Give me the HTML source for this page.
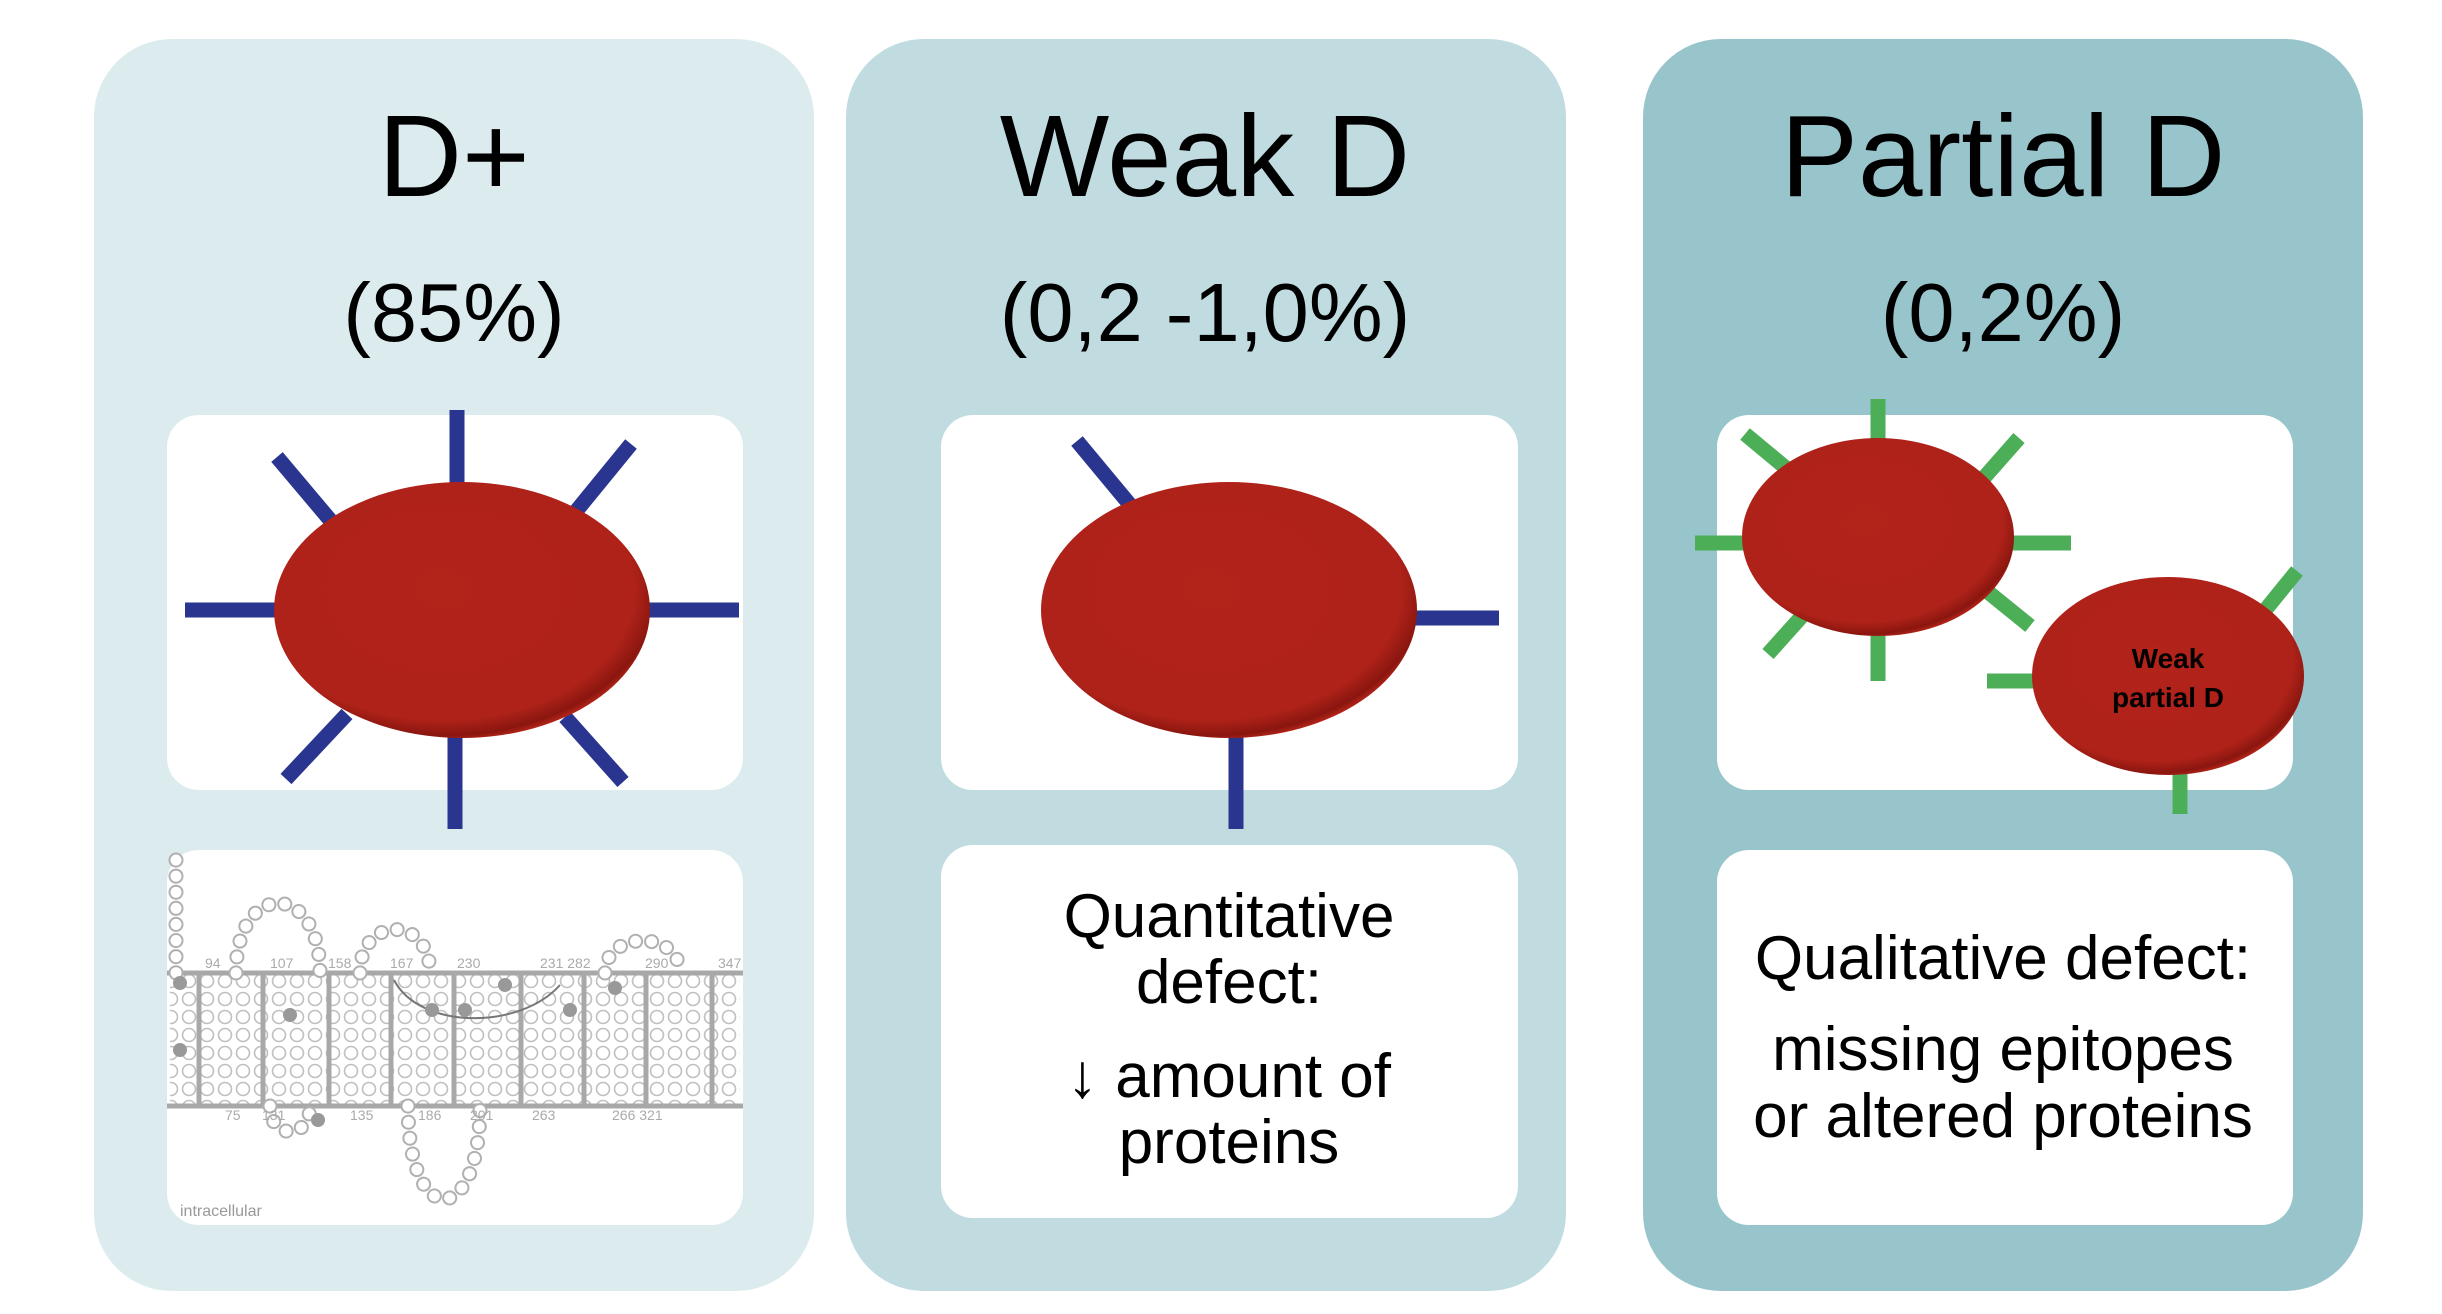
<!DOCTYPE html>
<html><head><meta charset="utf-8"><style>
html,body{margin:0;padding:0;background:#fff;}
svg{display:block;}
text{font-family:"Liberation Sans",Arial,sans-serif;}
</style></head><body>
<svg width="2442" height="1314" viewBox="0 0 2442 1314" xmlns="http://www.w3.org/2000/svg">
<defs>
<radialGradient id="rbc" cx="0.45" cy="0.42" r="0.6">
<stop offset="0" stop-color="#b2231a"/><stop offset="0.85" stop-color="#ae2219"/><stop offset="0.95" stop-color="#8a160f"/><stop offset="1" stop-color="#c0281c"/>
</radialGradient>
<pattern id="helix" width="18" height="18" patternUnits="userSpaceOnUse">
<circle cx="9" cy="9" r="6.5" fill="#fff" stroke="#b8b8b8" stroke-width="1.6"/>
</pattern>
</defs>
<!-- panels -->
<rect x="94" y="39" width="720" height="1252" rx="78" fill="#dcecee"/>
<rect x="846" y="39" width="720" height="1252" rx="78" fill="#c0dce0"/>
<rect x="1643" y="39" width="720" height="1252" rx="78" fill="#98c4cc"/>
<!-- titles -->
<g font-size="116" text-anchor="middle" fill="#000">
<text x="454" y="196">D+</text>
<text x="1205" y="196">Weak D</text>
<text x="2003" y="196">Partial D</text>
</g>
<g font-size="83" text-anchor="middle" fill="#000">
<text x="454" y="341">(85%)</text>
<text x="1205" y="341">(0,2 -1,0%)</text>
<text x="2003" y="341">(0,2%)</text>
</g>
<!-- boxes -->
<rect x="167" y="415" width="576" height="375" rx="32" fill="#fff"/>
<rect x="167" y="850" width="576" height="375" rx="32" fill="#fff"/>
<rect x="941" y="415" width="577" height="375" rx="32" fill="#fff"/>
<rect x="941" y="845" width="577" height="373" rx="32" fill="#fff"/>
<rect x="1717" y="415" width="576" height="375" rx="32" fill="#fff"/>
<rect x="1717" y="850" width="576" height="375" rx="32" fill="#fff"/>
<!-- D+ cell -->
<g stroke="#2a3590" stroke-width="15">
<line x1="457" y1="410" x2="457" y2="490"/>
<line x1="277" y1="457" x2="336" y2="527"/>
<line x1="631" y1="444" x2="573" y2="515"/>
<line x1="185" y1="610" x2="280" y2="610"/>
<line x1="645" y1="610" x2="739" y2="610"/>
<line x1="286" y1="779" x2="347" y2="714"/>
<line x1="455" y1="735" x2="455" y2="829"/>
<line x1="623" y1="782" x2="565" y2="717"/>
</g>
<ellipse cx="462" cy="610" rx="188" ry="128" fill="url(#rbc)"/>
<!-- Weak D cell -->
<g stroke="#2a3590" stroke-width="15">
<line x1="1077" y1="441" x2="1136" y2="512"/>
<line x1="1410" y1="618" x2="1499" y2="618"/>
<line x1="1236" y1="735" x2="1236" y2="829"/>
</g>
<ellipse cx="1229" cy="610" rx="188" ry="128" fill="url(#rbc)"/>
<!-- Partial D cells -->
<g stroke="#4caf58" stroke-width="15">
<line x1="1878" y1="399" x2="1878" y2="445"/>
<line x1="1745" y1="434" x2="1792" y2="473"/>
<line x1="2019" y1="438" x2="1982" y2="480"/>
<line x1="1695" y1="543" x2="1746" y2="543"/>
<line x1="2012" y1="543" x2="2071" y2="543"/>
<line x1="1768" y1="654" x2="1803" y2="615"/>
<line x1="1878" y1="632" x2="1878" y2="681"/>
<line x1="2030" y1="626" x2="1988" y2="592"/>
<line x1="2297" y1="571" x2="2262" y2="614"/>
<line x1="1987" y1="681" x2="2040" y2="681"/>
<line x1="2180" y1="768" x2="2180" y2="814"/>
</g>
<ellipse cx="1878" cy="537" rx="136" ry="99" fill="url(#rbc)"/>
<ellipse cx="2168" cy="676" rx="136" ry="99" fill="url(#rbc)"/>
<g font-size="28" font-weight="bold" text-anchor="middle" fill="#000">
<text x="2168" y="668">Weak</text>
<text x="2168" y="707">partial D</text>
</g>
<!-- protein diagram -->
<g>
<rect x="170" y="973" width="570" height="133" fill="url(#helix)" opacity="0.9"/>
<g stroke="#a8a8a8" stroke-width="5">
<line x1="167" y1="973" x2="743" y2="973"/>
<line x1="167" y1="1106" x2="743" y2="1106"/>
<line x1="199" y1="973" x2="199" y2="1106"/><line x1="263" y1="973" x2="263" y2="1106"/>
<line x1="329" y1="973" x2="329" y2="1106"/><line x1="391" y1="973" x2="391" y2="1106"/>
<line x1="454" y1="973" x2="454" y2="1106"/><line x1="521" y1="973" x2="521" y2="1106"/>
<line x1="584" y1="973" x2="584" y2="1106"/><line x1="646" y1="973" x2="646" y2="1106"/>
<line x1="712" y1="973" x2="712" y2="1106"/>
</g>
<g fill="none" stroke-linecap="round" stroke-dasharray="0.1 16">
<g stroke="#b0b0b0" stroke-width="15">
<path d="M176 860 L176 973"/>
<path d="M236 973 C236 880 320 880 320 973"/>
<path d="M360 973 C360 915 430 915 430 973"/>
<path d="M408 1106 C408 1230 480 1230 480 1106"/>
<path d="M605 973 C605 930 680 930 680 973"/>
<path d="M270 1106 C270 1140 310 1140 310 1106"/>
</g>
<g stroke="#fff" stroke-width="11">
<path d="M176 860 L176 973"/>
<path d="M236 973 C236 880 320 880 320 973"/>
<path d="M360 973 C360 915 430 915 430 973"/>
<path d="M408 1106 C408 1230 480 1230 480 1106"/>
<path d="M605 973 C605 930 680 930 680 973"/>
<path d="M270 1106 C270 1140 310 1140 310 1106"/>
</g>
</g>
<path d="M394 980 C420 1030 520 1030 560 985" fill="none" stroke="#777" stroke-width="2"/>
<g fill="#999"><circle cx="180" cy="983" r="7"/><circle cx="180" cy="1050" r="7"/><circle cx="290" cy="1015" r="7"/><circle cx="465" cy="1010" r="7"/><circle cx="505" cy="985" r="7"/><circle cx="615" cy="988" r="7"/><circle cx="570" cy="1010" r="7"/><circle cx="318" cy="1120" r="7"/><circle cx="432" cy="1010" r="7"/></g>
<g font-size="14" fill="#aaa">
<text x="205" y="968">94</text><text x="270" y="968">107</text><text x="328" y="968">158</text><text x="390" y="968">167</text><text x="457" y="968">230</text><text x="540" y="968">231 282</text><text x="645" y="968">290</text><text x="718" y="968">347</text>
<text x="225" y="1120">75</text><text x="262" y="1120">131</text><text x="350" y="1120">135</text><text x="418" y="1120">186</text><text x="470" y="1120">201</text><text x="532" y="1120">263</text><text x="612" y="1120">266 321</text>
</g>
<text x="180" y="1216" font-size="16" fill="#999">intracellular</text>
</g>
<!-- Weak D text -->
<g font-size="62" text-anchor="middle" fill="#000">
<text x="1229" y="937">Quantitative</text>
<text x="1229" y="1003">defect:</text>
<text x="1229" y="1097">↓ amount of</text>
<text x="1229" y="1163">proteins</text>
</g>
<g font-size="62" text-anchor="middle" fill="#000">
<text x="2003" y="979">Qualitative defect:</text>
<text x="2003" y="1070">missing epitopes</text>
<text x="2003" y="1137">or altered proteins</text>
</g>
</svg>
</body></html>
